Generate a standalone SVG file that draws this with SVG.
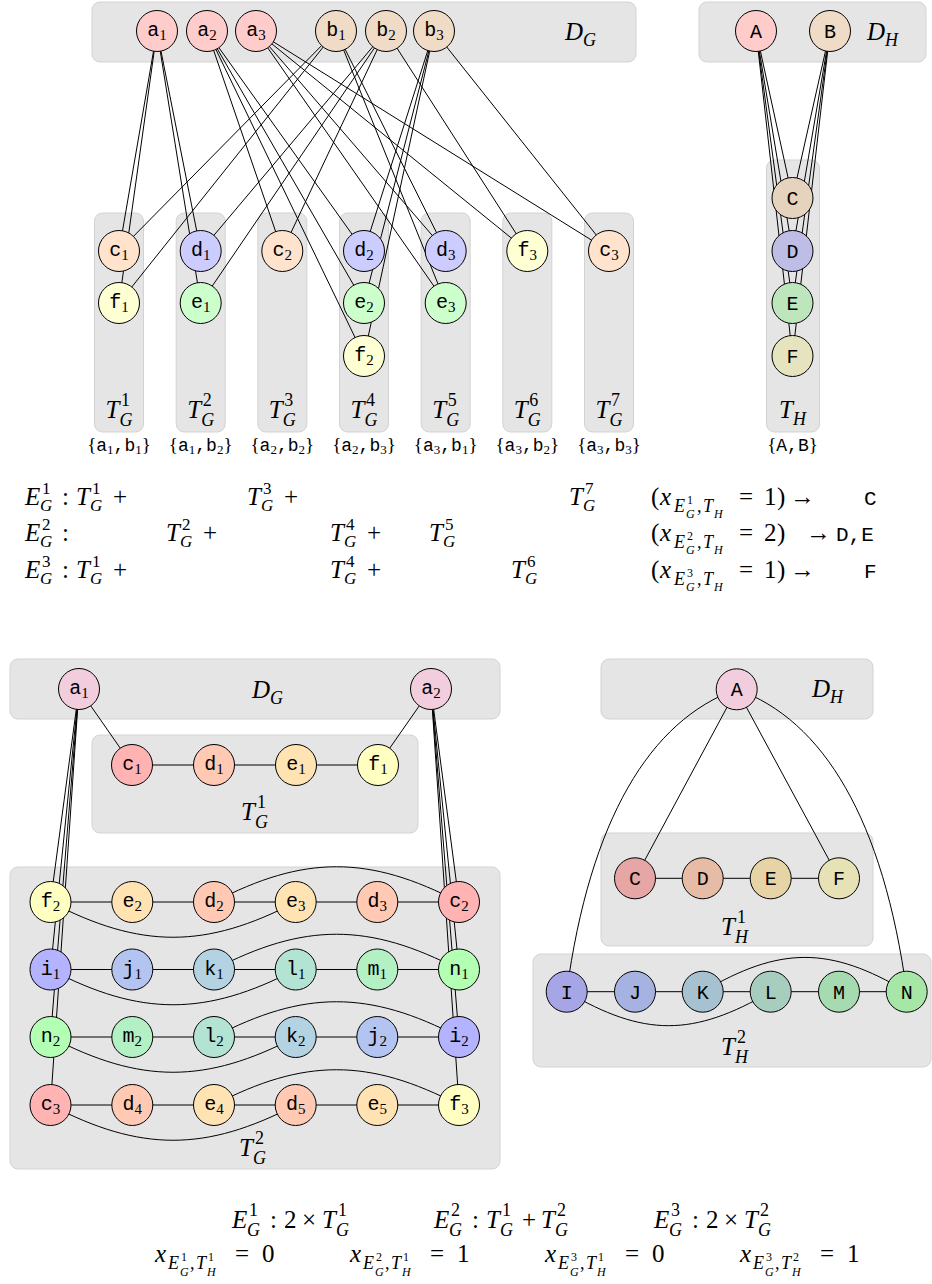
<svg xmlns="http://www.w3.org/2000/svg" width="932" height="1284" viewBox="0 0 932 1284">
<style>
.bx{fill:#e5e5e5;stroke:#d3d3d3;stroke-width:1}
.e{stroke:#000;stroke-width:1;fill:none}
circle{stroke:#000;stroke-width:1}
.nl{font-family:"Liberation Mono","DejaVu Sans Mono",monospace;font-size:20px;text-anchor:middle;fill:#000}
.ns{font-family:"Liberation Serif","DejaVu Serif",serif;font-size:15px}
.mi{font-family:"Liberation Serif","DejaVu Serif",serif;font-style:italic;font-size:25px}
.mr{font-family:"Liberation Serif","DejaVu Serif",serif;font-size:25px}
.si{font-family:"Liberation Serif","DejaVu Serif",serif;font-style:italic;font-size:18px}
.sr{font-family:"Liberation Serif","DejaVu Serif",serif;font-size:18px}
.qi{font-family:"Liberation Serif","DejaVu Serif",serif;font-style:italic;font-size:17px}
.qr{font-family:"Liberation Serif","DejaVu Serif",serif;font-size:17px}
.ti{font-family:"Liberation Serif","DejaVu Serif",serif;font-style:italic;font-size:12px}
.tr{font-family:"Liberation Serif","DejaVu Serif",serif;font-size:12px}
.tt{font-family:"Liberation Mono","DejaVu Sans Mono",monospace;font-size:21px}
.bl{font-family:"Liberation Mono","DejaVu Sans Mono",monospace;font-size:18px;text-anchor:middle}
.bb{font-family:"Liberation Serif","DejaVu Serif",serif;font-size:19px}
.bs{font-family:"Liberation Serif","DejaVu Serif",serif;font-size:13px}
</style>

<g id="boxes-top">
<rect class="bx" x="92" y="2" width="544" height="60" rx="8"/>
<rect class="bx" x="699" y="2" width="227" height="60" rx="8"/>
<rect class="bx" x="94.5" y="213" width="49" height="219" rx="8"/>
<rect class="bx" x="176.2" y="213" width="49" height="219" rx="8"/>
<rect class="bx" x="257.8" y="213" width="49" height="219" rx="8"/>
<rect class="bx" x="339.5" y="213" width="49" height="219" rx="8"/>
<rect class="bx" x="421.2" y="213" width="49" height="219" rx="8"/>
<rect class="bx" x="502.8" y="213" width="49" height="219" rx="8"/>
<rect class="bx" x="584.5" y="213" width="49" height="219" rx="8"/>
<rect class="bx" x="766.5" y="160" width="53" height="272" rx="8"/>
</g>

<g id="labels-top">
<text class="mi" x="565" y="40">D</text><text class="si" x="583" y="46">G</text>
<text class="mi" x="867" y="40">D</text><text class="si" x="885" y="46">H</text>
<text class="mi" x="105.5" y="418">T</text><text class="sr" x="121" y="406">1</text><text class="si" x="119.5" y="426">G</text>
<text class="mi" x="187.2" y="418">T</text><text class="sr" x="202.7" y="406">2</text><text class="si" x="201.2" y="426">G</text>
<text class="mi" x="268.8" y="418">T</text><text class="sr" x="284.3" y="406">3</text><text class="si" x="282.8" y="426">G</text>
<text class="mi" x="350.5" y="418">T</text><text class="sr" x="366" y="406">4</text><text class="si" x="364.5" y="426">G</text>
<text class="mi" x="432.2" y="418">T</text><text class="sr" x="447.7" y="406">5</text><text class="si" x="446.2" y="426">G</text>
<text class="mi" x="513.8" y="418">T</text><text class="sr" x="529.3" y="406">6</text><text class="si" x="527.8" y="426">G</text>
<text class="mi" x="595.5" y="418">T</text><text class="sr" x="611" y="406">7</text><text class="si" x="609.5" y="426">G</text>
<text class="mi" x="779" y="418">T</text><text class="si" x="793" y="425">H</text>
<text class="bl" x="119" y="451"><tspan class="bb">{</tspan>a<tspan class="bs" dy="3">1</tspan><tspan dy="-3">,b</tspan><tspan class="bs" dy="3">1</tspan><tspan class="bb" dy="-3">}</tspan></text>
<text class="bl" x="200.7" y="451"><tspan class="bb">{</tspan>a<tspan class="bs" dy="3">1</tspan><tspan dy="-3">,b</tspan><tspan class="bs" dy="3">2</tspan><tspan class="bb" dy="-3">}</tspan></text>
<text class="bl" x="282.3" y="451"><tspan class="bb">{</tspan>a<tspan class="bs" dy="3">2</tspan><tspan dy="-3">,b</tspan><tspan class="bs" dy="3">2</tspan><tspan class="bb" dy="-3">}</tspan></text>
<text class="bl" x="364" y="451"><tspan class="bb">{</tspan>a<tspan class="bs" dy="3">2</tspan><tspan dy="-3">,b</tspan><tspan class="bs" dy="3">3</tspan><tspan class="bb" dy="-3">}</tspan></text>
<text class="bl" x="445.7" y="451"><tspan class="bb">{</tspan>a<tspan class="bs" dy="3">3</tspan><tspan dy="-3">,b</tspan><tspan class="bs" dy="3">1</tspan><tspan class="bb" dy="-3">}</tspan></text>
<text class="bl" x="527.3" y="451"><tspan class="bb">{</tspan>a<tspan class="bs" dy="3">3</tspan><tspan dy="-3">,b</tspan><tspan class="bs" dy="3">2</tspan><tspan class="bb" dy="-3">}</tspan></text>
<text class="bl" x="609" y="451"><tspan class="bb">{</tspan>a<tspan class="bs" dy="3">3</tspan><tspan dy="-3">,b</tspan><tspan class="bs" dy="3">3</tspan><tspan class="bb" dy="-3">}</tspan></text>
<text class="bl" x="792.5" y="451"><tspan class="bb">{</tspan>A,B<tspan class="bb">}</tspan></text>
</g>

<g id="connectors-top">
<path class="e" d="M157 31L119 251M157 31L119 303M157 31L200.7 251M157 31L200.7 303"/>
<path class="e" d="M336 31L119 251M336 31L119 303M336 31L445.7 251M336 31L445.7 303"/>
<path class="e" d="M386 31L200.7 251M386 31L200.7 303M386 31L282.3 251M386 31L527.3 251"/>
<path class="e" d="M207 31L282.3 251M207 31L364 251M207 31L364 303M207 31L364 356"/>
<path class="e" d="M434 31L364 251M434 31L364 303M434 31L364 356M434 31L609 251"/>
<path class="e" d="M256 31L445.7 251M256 31L445.7 303M256 31L527.3 251M256 31L609 251"/>
<path class="e" d="M756 31L792.5 198M756 31L792.5 251M756 31L792.5 303M756 31L792.5 356"/>
<path class="e" d="M830 31L792.5 198M830 31L792.5 251M830 31L792.5 303M830 31L792.5 356"/>
</g>

<g id="top-a1"><circle cx="157" cy="31" r="20.5" fill="#ffcccc"/><text class="nl" x="157" y="36">a<tspan class="ns" dy="4">1</tspan></text></g>
<g id="top-a2"><circle cx="207" cy="31" r="20.5" fill="#ffcccc"/><text class="nl" x="207" y="36">a<tspan class="ns" dy="4">2</tspan></text></g>
<g id="top-a3"><circle cx="256" cy="31" r="20.5" fill="#ffcccc"/><text class="nl" x="256" y="36">a<tspan class="ns" dy="4">3</tspan></text></g>
<g id="top-b1"><circle cx="336" cy="31" r="20.5" fill="#f0dbc6"/><text class="nl" x="336" y="36">b<tspan class="ns" dy="4">1</tspan></text></g>
<g id="top-b2"><circle cx="386" cy="31" r="20.5" fill="#f0dbc6"/><text class="nl" x="386" y="36">b<tspan class="ns" dy="4">2</tspan></text></g>
<g id="top-b3"><circle cx="434" cy="31" r="20.5" fill="#f0dbc6"/><text class="nl" x="434" y="36">b<tspan class="ns" dy="4">3</tspan></text></g>
<g id="top-A"><circle cx="756" cy="31" r="20.5" fill="#ffcccc"/><text class="nl" x="756" y="38">A</text></g>
<g id="top-B"><circle cx="830" cy="31" r="20.5" fill="#f0dbc6"/><text class="nl" x="830" y="38">B</text></g>

<g id="top-c1"><circle cx="119" cy="251" r="20.5" fill="#ffe3cc"/><text class="nl" x="119" y="256">c<tspan class="ns" dy="4">1</tspan></text></g>
<g id="top-f1"><circle cx="119" cy="303" r="20.5" fill="#ffffd4"/><text class="nl" x="119" y="308">f<tspan class="ns" dy="4">1</tspan></text></g>
<g id="top-d1"><circle cx="200.7" cy="251" r="20.5" fill="#ccccff"/><text class="nl" x="200.7" y="256">d<tspan class="ns" dy="4">1</tspan></text></g>
<g id="top-e1"><circle cx="200.7" cy="303" r="20.5" fill="#ccffcc"/><text class="nl" x="200.7" y="308">e<tspan class="ns" dy="4">1</tspan></text></g>
<g id="top-c2"><circle cx="282.3" cy="251" r="20.5" fill="#ffe3cc"/><text class="nl" x="282.3" y="256">c<tspan class="ns" dy="4">2</tspan></text></g>
<g id="top-d2"><circle cx="364" cy="251" r="20.5" fill="#ccccff"/><text class="nl" x="364" y="256">d<tspan class="ns" dy="4">2</tspan></text></g>
<g id="top-e2"><circle cx="364" cy="303" r="20.5" fill="#ccffcc"/><text class="nl" x="364" y="308">e<tspan class="ns" dy="4">2</tspan></text></g>
<g id="top-f2"><circle cx="364" cy="356" r="20.5" fill="#ffffd4"/><text class="nl" x="364" y="361">f<tspan class="ns" dy="4">2</tspan></text></g>
<g id="top-d3"><circle cx="445.7" cy="251" r="20.5" fill="#ccccff"/><text class="nl" x="445.7" y="256">d<tspan class="ns" dy="4">3</tspan></text></g>
<g id="top-e3"><circle cx="445.7" cy="303" r="20.5" fill="#ccffcc"/><text class="nl" x="445.7" y="308">e<tspan class="ns" dy="4">3</tspan></text></g>
<g id="top-f3"><circle cx="527.3" cy="251" r="20.5" fill="#ffffd4"/><text class="nl" x="527.3" y="256">f<tspan class="ns" dy="4">3</tspan></text></g>
<g id="top-c3"><circle cx="609" cy="251" r="20.5" fill="#ffe3cc"/><text class="nl" x="609" y="256">c<tspan class="ns" dy="4">3</tspan></text></g>
<g id="top-C"><circle cx="792.5" cy="198" r="20.5" fill="#e6d3bd"/><text class="nl" x="792.5" y="205">C</text></g>
<g id="top-D"><circle cx="792.5" cy="251" r="20.5" fill="#bdbde6"/><text class="nl" x="792.5" y="258">D</text></g>
<g id="top-E"><circle cx="792.5" cy="303" r="20.5" fill="#bde6bd"/><text class="nl" x="792.5" y="310">E</text></g>
<g id="top-F"><circle cx="792.5" cy="356" r="20.5" fill="#e6e3bf"/><text class="nl" x="792.5" y="363">F</text></g>

<g id="equations-top">
<text class="mi" x="25" y="505">E</text><text class="qr" x="42" y="494">1</text><text class="qi" x="40" y="511">G</text>
<text class="mr" x="62" y="505">:</text>
<text class="mi" x="76" y="505">T</text><text class="qr" x="92" y="494">1</text><text class="qi" x="90" y="511">G</text>
<text class="mr" x="113" y="505">+</text>
<text class="mi" x="247" y="505">T</text><text class="qr" x="263" y="494">3</text><text class="qi" x="261" y="511">G</text>
<text class="mr" x="284" y="505">+</text>
<text class="mi" x="569" y="505">T</text><text class="qr" x="585" y="494">7</text><text class="qi" x="583" y="511">G</text>

<text class="mi" x="25" y="541">E</text><text class="qr" x="42" y="530">2</text><text class="qi" x="40" y="547">G</text>
<text class="mr" x="62" y="541">:</text>
<text class="mi" x="166" y="541">T</text><text class="qr" x="182" y="530">2</text><text class="qi" x="180" y="547">G</text>
<text class="mr" x="203" y="541">+</text>
<text class="mi" x="330" y="541">T</text><text class="qr" x="346" y="530">4</text><text class="qi" x="344" y="547">G</text>
<text class="mr" x="367" y="541">+</text>
<text class="mi" x="429" y="541">T</text><text class="qr" x="445" y="530">5</text><text class="qi" x="443" y="547">G</text>

<text class="mi" x="25" y="578">E</text><text class="qr" x="42" y="567">3</text><text class="qi" x="40" y="584">G</text>
<text class="mr" x="62" y="578">:</text>
<text class="mi" x="76" y="578">T</text><text class="qr" x="92" y="567">1</text><text class="qi" x="90" y="584">G</text>
<text class="mr" x="113" y="578">+</text>
<text class="mi" x="330" y="578">T</text><text class="qr" x="346" y="567">4</text><text class="qi" x="344" y="584">G</text>
<text class="mr" x="367" y="578">+</text>
<text class="mi" x="511" y="578">T</text><text class="qr" x="527" y="567">6</text><text class="qi" x="525" y="584">G</text>

<text class="mr" x="651" y="505">(</text><text class="mi" x="660" y="505">x</text><text class="si" x="674" y="512">E</text><text class="tr" x="687" y="504">1</text><text class="ti" x="686" y="518">G</text><text class="sr" x="697" y="512">,</text><text class="si" x="703" y="512">T</text><text class="ti" x="714" y="518">H</text><text class="mr" x="739" y="505">=</text><text class="mr" x="764" y="505">1</text><text class="mr" x="777" y="505">)</text><text class="mr" x="790" y="505">→</text><text class="tt" x="864" y="505">C</text>
<text class="mr" x="651" y="541">(</text><text class="mi" x="660" y="541">x</text><text class="si" x="674" y="548">E</text><text class="tr" x="687" y="540">2</text><text class="ti" x="686" y="554">G</text><text class="sr" x="697" y="548">,</text><text class="si" x="703" y="548">T</text><text class="ti" x="714" y="554">H</text><text class="mr" x="739" y="541">=</text><text class="mr" x="764" y="541">2</text><text class="mr" x="777" y="541">)</text><text class="mr" x="806" y="541">→</text><text class="tt" x="836" y="541">D,E</text>
<text class="mr" x="651" y="578">(</text><text class="mi" x="660" y="578">x</text><text class="si" x="674" y="585">E</text><text class="tr" x="687" y="577">3</text><text class="ti" x="686" y="591">G</text><text class="sr" x="697" y="585">,</text><text class="si" x="703" y="585">T</text><text class="ti" x="714" y="591">H</text><text class="mr" x="739" y="578">=</text><text class="mr" x="764" y="578">1</text><text class="mr" x="777" y="578">)</text><text class="mr" x="790" y="578">→</text><text class="tt" x="864" y="578">F</text>
</g>

<g id="boxes-bottom">
<rect class="bx" x="10" y="659" width="490" height="60" rx="8"/>
<rect class="bx" x="92" y="735" width="326" height="98" rx="8"/>
<rect class="bx" x="10" y="867" width="490" height="302" rx="8"/>
<rect class="bx" x="601" y="659" width="272" height="60" rx="8"/>
<rect class="bx" x="601" y="833" width="272" height="113" rx="8"/>
<rect class="bx" x="533" y="954" width="398" height="113" rx="8"/>
</g>
<g id="labels-bottom">
<text class="mi" x="252" y="698">D</text><text class="si" x="270" y="704">G</text>
<text class="mi" x="241" y="820">T</text><text class="sr" x="257" y="808">1</text><text class="si" x="255" y="828">G</text>
<text class="mi" x="239" y="1156">T</text><text class="sr" x="255" y="1144">2</text><text class="si" x="253" y="1164">G</text>
<text class="mi" x="812" y="697">D</text><text class="si" x="830" y="703">H</text>
<text class="mi" x="721" y="935">T</text><text class="sr" x="737" y="923">1</text><text class="si" x="735" y="943">H</text>
<text class="mi" x="721" y="1055">T</text><text class="sr" x="737" y="1043">2</text><text class="si" x="735" y="1063">H</text>
</g>

<g id="connectors-bottom">
<path class="e" d="M79 689L132 765M79 689L50.5 902M79 689L50.5 969.5M79 689L50.5 1037M79 689L50.5 1105"/>
<path class="e" d="M431 689L378 765M431 689L459 902M431 689L459 969.5M431 689L459 1037M431 689L459 1105"/>
<path class="e" d="M132 765H378"/>
<path class="e" d="M50.5 902H459M50.5 969.5H459M50.5 1037H459M50.5 1105H459"/>
<path class="e" d="M214 902C304 855 369 855 459 902M50.5 902C140.5 949 205.7 949 295.7 902"/>
<path class="e" d="M214 969.5C304 922.5 369 922.5 459 969.5M50.5 969.5C140.5 1016.5 205.7 1016.5 295.7 969.5"/>
<path class="e" d="M214 1037C304 990 369 990 459 1037M50.5 1037C140.5 1084 205.7 1084 295.7 1037"/>
<path class="e" d="M214 1105C304 1058 369 1058 459 1105M50.5 1105C140.5 1152 205.7 1152 295.7 1105"/>
<path class="e" d="M736.7 689.3L635 878.3M736.7 689.3L839 878.3"/>
<path class="e" d="M736.7 689.3C650 720 590 820 566.7 991.7M736.7 689.3C823.4 720 883.4 820 906.7 991.7"/>
<path class="e" d="M635 878.3H839M566.7 991.7H906.7"/>
<path class="e" d="M702.7 991.7C780 946 830 946 906.7 991.7M566.7 991.7C644 1037 693 1037 770.7 991.7"/>
</g>

<g id="bot-a1"><circle cx="79" cy="689" r="20.5" fill="#f2cddd"/><text class="nl" x="79" y="694">a<tspan class="ns" dy="4">1</tspan></text></g>
<g id="bot-a2"><circle cx="431" cy="689" r="20.5" fill="#f2cddd"/><text class="nl" x="431" y="694">a<tspan class="ns" dy="4">2</tspan></text></g>
<g id="bot-c1"><circle cx="132" cy="765" r="20.5" fill="#ffb3b3"/><text class="nl" x="132" y="770">c<tspan class="ns" dy="4">1</tspan></text></g>
<g id="bot-d1"><circle cx="214" cy="765" r="20.5" fill="#ffc9b3"/><text class="nl" x="214" y="770">d<tspan class="ns" dy="4">1</tspan></text></g>
<g id="bot-e1"><circle cx="296" cy="765" r="20.5" fill="#ffe3b3"/><text class="nl" x="296" y="770">e<tspan class="ns" dy="4">1</tspan></text></g>
<g id="bot-f1"><circle cx="378" cy="765" r="20.5" fill="#ffffc2"/><text class="nl" x="378" y="770">f<tspan class="ns" dy="4">1</tspan></text></g>

<g id="bot-f2"><circle cx="50.5" cy="902" r="20.5" fill="#ffffc2"/><text class="nl" x="50.5" y="907">f<tspan class="ns" dy="4">2</tspan></text></g>
<g id="bot-e2"><circle cx="132.3" cy="902" r="20.5" fill="#ffe3b3"/><text class="nl" x="132.3" y="907">e<tspan class="ns" dy="4">2</tspan></text></g>
<g id="bot-d2"><circle cx="214" cy="902" r="20.5" fill="#ffc9b3"/><text class="nl" x="214" y="907">d<tspan class="ns" dy="4">2</tspan></text></g>
<g id="bot-e3"><circle cx="295.7" cy="902" r="20.5" fill="#ffe3b3"/><text class="nl" x="295.7" y="907">e<tspan class="ns" dy="4">3</tspan></text></g>
<g id="bot-d3"><circle cx="377.3" cy="902" r="20.5" fill="#ffc9b3"/><text class="nl" x="377.3" y="907">d<tspan class="ns" dy="4">3</tspan></text></g>
<g id="bot-c2"><circle cx="459" cy="902" r="20.5" fill="#ffb3b3"/><text class="nl" x="459" y="907">c<tspan class="ns" dy="4">2</tspan></text></g>

<g id="bot-i1"><circle cx="50.5" cy="969.5" r="20.5" fill="#b3b3ff"/><text class="nl" x="50.5" y="974.5">i<tspan class="ns" dy="4">1</tspan></text></g>
<g id="bot-j1"><circle cx="132.3" cy="969.5" r="20.5" fill="#b3c4f0"/><text class="nl" x="132.3" y="974.5">j<tspan class="ns" dy="4">1</tspan></text></g>
<g id="bot-k1"><circle cx="214" cy="969.5" r="20.5" fill="#b3d3e3"/><text class="nl" x="214" y="974.5">k<tspan class="ns" dy="4">1</tspan></text></g>
<g id="bot-l1"><circle cx="295.7" cy="969.5" r="20.5" fill="#b3e3d3"/><text class="nl" x="295.7" y="974.5">l<tspan class="ns" dy="4">1</tspan></text></g>
<g id="bot-m1"><circle cx="377.3" cy="969.5" r="20.5" fill="#b3f0c4"/><text class="nl" x="377.3" y="974.5">m<tspan class="ns" dy="4">1</tspan></text></g>
<g id="bot-n1"><circle cx="459" cy="969.5" r="20.5" fill="#b3ffb3"/><text class="nl" x="459" y="974.5">n<tspan class="ns" dy="4">1</tspan></text></g>

<g id="bot-n2"><circle cx="50.5" cy="1037" r="20.5" fill="#b3ffb3"/><text class="nl" x="50.5" y="1042">n<tspan class="ns" dy="4">2</tspan></text></g>
<g id="bot-m2"><circle cx="132.3" cy="1037" r="20.5" fill="#b3f0c4"/><text class="nl" x="132.3" y="1042">m<tspan class="ns" dy="4">2</tspan></text></g>
<g id="bot-l2"><circle cx="214" cy="1037" r="20.5" fill="#b3e3d3"/><text class="nl" x="214" y="1042">l<tspan class="ns" dy="4">2</tspan></text></g>
<g id="bot-k2"><circle cx="295.7" cy="1037" r="20.5" fill="#b3d3e3"/><text class="nl" x="295.7" y="1042">k<tspan class="ns" dy="4">2</tspan></text></g>
<g id="bot-j2"><circle cx="377.3" cy="1037" r="20.5" fill="#b3c4f0"/><text class="nl" x="377.3" y="1042">j<tspan class="ns" dy="4">2</tspan></text></g>
<g id="bot-i2"><circle cx="459" cy="1037" r="20.5" fill="#b3b3ff"/><text class="nl" x="459" y="1042">i<tspan class="ns" dy="4">2</tspan></text></g>

<g id="bot-c3"><circle cx="50.5" cy="1105" r="20.5" fill="#ffb3b3"/><text class="nl" x="50.5" y="1110">c<tspan class="ns" dy="4">3</tspan></text></g>
<g id="bot-d4"><circle cx="132.3" cy="1105" r="20.5" fill="#ffc9b3"/><text class="nl" x="132.3" y="1110">d<tspan class="ns" dy="4">4</tspan></text></g>
<g id="bot-e4"><circle cx="214" cy="1105" r="20.5" fill="#ffe3b3"/><text class="nl" x="214" y="1110">e<tspan class="ns" dy="4">4</tspan></text></g>
<g id="bot-d5"><circle cx="295.7" cy="1105" r="20.5" fill="#ffc9b3"/><text class="nl" x="295.7" y="1110">d<tspan class="ns" dy="4">5</tspan></text></g>
<g id="bot-e5"><circle cx="377.3" cy="1105" r="20.5" fill="#ffe3b3"/><text class="nl" x="377.3" y="1110">e<tspan class="ns" dy="4">5</tspan></text></g>
<g id="bot-f3"><circle cx="459" cy="1105" r="20.5" fill="#ffffc2"/><text class="nl" x="459" y="1110">f<tspan class="ns" dy="4">3</tspan></text></g>

<g id="bot-A"><circle cx="736.7" cy="689.3" r="20.5" fill="#f2cddd"/><text class="nl" x="736.7" y="696.3">A</text></g>
<g id="bot-C"><circle cx="635" cy="878.3" r="20.5" fill="#e6a6a6"/><text class="nl" x="635" y="885.3">C</text></g>
<g id="bot-D"><circle cx="702.7" cy="878.3" r="20.5" fill="#e6bca6"/><text class="nl" x="702.7" y="885.3">D</text></g>
<g id="bot-E"><circle cx="770.7" cy="878.3" r="20.5" fill="#e6d3a6"/><text class="nl" x="770.7" y="885.3">E</text></g>
<g id="bot-F"><circle cx="839" cy="878.3" r="20.5" fill="#e6e2b6"/><text class="nl" x="839" y="885.3">F</text></g>
<g id="bot-I"><circle cx="566.7" cy="991.7" r="20.5" fill="#a6a6e6"/><text class="nl" x="566.7" y="998.7">I</text></g>
<g id="bot-J"><circle cx="635" cy="991.7" r="20.5" fill="#a6b3e0"/><text class="nl" x="635" y="998.7">J</text></g>
<g id="bot-K"><circle cx="702.7" cy="991.7" r="20.5" fill="#a6c1cf"/><text class="nl" x="702.7" y="998.7">K</text></g>
<g id="bot-L"><circle cx="770.7" cy="991.7" r="20.5" fill="#a6cdbd"/><text class="nl" x="770.7" y="998.7">L</text></g>
<g id="bot-M"><circle cx="839" cy="991.7" r="20.5" fill="#a6dbb1"/><text class="nl" x="839" y="998.7">M</text></g>
<g id="bot-N"><circle cx="906.7" cy="991.7" r="20.5" fill="#a6e6a6"/><text class="nl" x="906.7" y="998.7">N</text></g>

<g id="equations-bottom">
<text class="mi" x="232" y="1228">E</text><text class="sr" x="249" y="1216">1</text><text class="si" x="247" y="1236">G</text>
<text class="mr" x="270" y="1228">:</text><text class="mr" x="284" y="1228">2</text><text class="mr" x="302" y="1228">×</text>
<text class="mi" x="322" y="1228">T</text><text class="sr" x="338" y="1216">1</text><text class="si" x="336" y="1236">G</text>

<text class="mi" x="434" y="1228">E</text><text class="sr" x="451" y="1216">2</text><text class="si" x="449" y="1236">G</text>
<text class="mr" x="472" y="1228">:</text>
<text class="mi" x="486" y="1228">T</text><text class="sr" x="502" y="1216">1</text><text class="si" x="500" y="1236">G</text>
<text class="mr" x="522" y="1228">+</text>
<text class="mi" x="541" y="1228">T</text><text class="sr" x="557" y="1216">2</text><text class="si" x="555" y="1236">G</text>

<text class="mi" x="654" y="1228">E</text><text class="sr" x="671" y="1216">3</text><text class="si" x="669" y="1236">G</text>
<text class="mr" x="692" y="1228">:</text><text class="mr" x="706" y="1228">2</text><text class="mr" x="724" y="1228">×</text>
<text class="mi" x="744" y="1228">T</text><text class="sr" x="760" y="1216">2</text><text class="si" x="758" y="1236">G</text>

<text class="mi" x="155" y="1262">x</text><text class="si" x="168" y="1269">E</text><text class="tr" x="181" y="1261">1</text><text class="ti" x="180" y="1276">G</text><text class="sr" x="190" y="1269">,</text><text class="si" x="196" y="1269">T</text><text class="tr" x="208" y="1261">1</text><text class="ti" x="207" y="1276">H</text><text class="mr" x="235" y="1262">=</text><text class="mr" x="262" y="1262">0</text>
<text class="mi" x="350" y="1262">x</text><text class="si" x="363" y="1269">E</text><text class="tr" x="376" y="1261">2</text><text class="ti" x="375" y="1276">G</text><text class="sr" x="385" y="1269">,</text><text class="si" x="391" y="1269">T</text><text class="tr" x="403" y="1261">1</text><text class="ti" x="402" y="1276">H</text><text class="mr" x="430" y="1262">=</text><text class="mr" x="457" y="1262">1</text>
<text class="mi" x="545" y="1262">x</text><text class="si" x="558" y="1269">E</text><text class="tr" x="571" y="1261">3</text><text class="ti" x="570" y="1276">G</text><text class="sr" x="580" y="1269">,</text><text class="si" x="586" y="1269">T</text><text class="tr" x="598" y="1261">1</text><text class="ti" x="597" y="1276">H</text><text class="mr" x="625" y="1262">=</text><text class="mr" x="652" y="1262">0</text>
<text class="mi" x="740" y="1262">x</text><text class="si" x="753" y="1269">E</text><text class="tr" x="766" y="1261">3</text><text class="ti" x="765" y="1276">G</text><text class="sr" x="775" y="1269">,</text><text class="si" x="781" y="1269">T</text><text class="tr" x="793" y="1261">2</text><text class="ti" x="792" y="1276">H</text><text class="mr" x="820" y="1262">=</text><text class="mr" x="847" y="1262">1</text>
</g>
</svg>
